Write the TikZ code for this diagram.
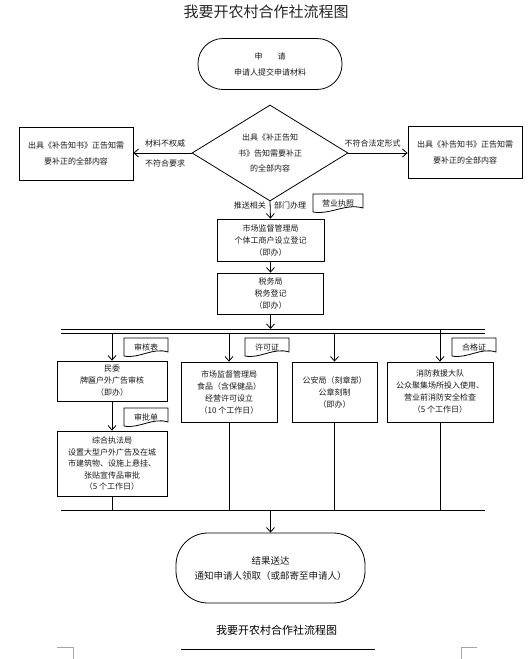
\documentclass[tikz,border=0pt]{standalone}
\usepackage{fontspec}
\setmainfont{Noto Sans CJK SC}
\usetikzlibrary{arrows.meta,shapes.geometric}
\definecolor{txt}{HTML}{1A1A1A}
\newcommand\docshape[6]{%
  \draw[line width=0.8pt,fill=white] (#2,#3) -- (#4,#3) -- (#4,{#5-4})
    .. controls ({#4-0.35*(#4-#2)},{#5-9}) and ({#2+0.35*(#4-#2)},{#5+3}) .. (#2,#5) -- cycle;
  \node[lbl] (#1) at ({(#2+#4)/2},{#3+9}) {#6};%
}
\begin{document}
\begin{tikzpicture}[x=1pt,y=-1pt,
  box/.style={draw,line width=0.8pt,rectangle,inner sep=0pt,align=center,text=txt,
     font=\fontsize{8}{12}\selectfont},
  term/.style={draw,line width=0.8pt,rectangle,inner sep=0pt,align=center,text=txt},
  lbl/.style={inner sep=0pt,text=txt,font=\fontsize{8}{10}\selectfont},
  arr/.style={draw,line width=0.8pt,-{Straight Barb[length=4.5pt,width=8pt]}},
  ln/.style={draw,line width=0.8pt}]
\useasboundingbox (0,0) rectangle (531,659);
\fill[white] (0,0) rectangle (531,659);

% title
\node[inner sep=0pt,text=black!85,font=\fontsize{15}{18}\selectfont] (title) at (266,12) {我要开农村合作社流程图};

% start
\node[term,rounded corners=25pt,minimum width=144pt,minimum height=51pt,
  font=\fontsize{8}{16}\selectfont] (start) at (270,64) {申\hspace{15pt}请\\申请人提交申请材料};

% decision
\node[draw,line width=0.8pt,diamond,aspect=1.625,minimum width=156pt,minimum height=96pt,
  inner sep=0pt,align=center,text=txt,font=\fontsize{8}{15.5}\selectfont] (dia) at (270,153)
  {出具《补正告知\\书》告知需要补正\\的全部内容};

% side boxes
\node[box,minimum width=114pt,minimum height=53pt,font=\fontsize{8}{16}\selectfont] (lbox) at (76,153.5)
  {出具《补告知书》正告知需\\要补正的全部内容};
\node[box,minimum width=114pt,minimum height=52pt,font=\fontsize{8}{16}\selectfont] (rbox) at (465,152)
  {出具《补告知书》正告知需\\要补正的全部内容};

\draw[arr] (dia.west) -- (lbox.east |- dia.west);
\draw[arr] (dia.east) -- (rbox.west |- dia.east);
\node[lbl] (l1) at (165,143) {材料不权威};
\node[lbl] (l2) at (165,163) {不符合要求};
\node[lbl] (l3) at (372.5,143) {不符合法定形式};

% main column
\node[box,minimum width=107pt,minimum height=42pt] (b1) at (270.5,240)
  {市场监督管理局\\个体工商户设立登记\\（即办）};
\node[box,minimum width=106pt,minimum height=41pt] (b2) at (270.5,293.5)
  {税务局\\税务登记\\（即办）};
\draw[arr] (dia.south) -- (b1.north);
\node[lbl,anchor=east] (l4) at (266,205) {推送相关};
\node[lbl,anchor=west] (l5) at (274,205) {部门办理};
\docshape{d0}{313}{194}{363}{212}{营业执照}
\draw[arr] (b1) -- (b2);

% buses
\coordinate (busA) at (61,329);  \coordinate (busA2) at (485,329);
\coordinate (busB) at (61,333);  \coordinate (busB2) at (485,333);
\coordinate (busC) at (61,510);  \coordinate (busC2) at (485,510);
\draw[arr] (b2.south) -- (b2.south |- busA);
\draw[ln] (busA) -- (busA2);
\draw[ln] (busB) -- (busB2);

% branch boxes
\node[box,minimum width=110pt,minimum height=40pt] (mw) at (112,381)
  {民委\\牌匾户外广告审核\\（即办）};
\node[box,minimum width=110pt,minimum height=65pt,font=\fontsize{8}{11.5}\selectfont] (zh) at (112,463.5)
  {综合执法局\\设置大型户外广告及在城\\市建筑物、设施上悬挂、\\张贴宣传品审批\\（5 个工作日）};
\node[box,minimum width=96pt,minimum height=60pt] (sp) at (229,392)
  {市场监督管理局\\食品（含保健品）\\经营许可设立\\（10 个工作日）};
\node[box,minimum width=85pt,minimum height=60pt] (ga) at (334.5,392)
  {公安局（刻章部）\\公章刻制\\（即办）};
\node[box,minimum width=106pt,minimum height=60pt] (xf) at (440,392)
  {消防救援大队\\公众聚集场所投入使用、\\营业前消防安全检查\\（5 个工作日）};

\draw[arr] (mw.north |- busB) -- (mw.north);
\draw[arr] (sp.north |- busB) -- (sp.north);
\draw[arr] (ga.north |- busB) -- (ga.north);
\draw[arr] (xf.north |- busA) -- (xf.north);
\draw[arr] (mw) -- (zh);

\docshape{d1}{124}{338}{168}{356}{审核表}
\docshape{d2}{245}{338}{289}{356}{许可证}
\docshape{d3}{452}{338}{496}{356}{合格证}
\docshape{d4}{124}{408}{168}{426}{审批单}

% lower bus
\draw[ln] (zh.south) -- (zh.south |- busC);
\draw[ln] (sp.south) -- (sp.south |- busC);
\draw[ln] (ga.south) -- (ga.south |- busC);
\draw[ln] (xf.south) -- (xf.south |- busC);
\draw[ln] (busC) -- (busC2);

% result
\node[term,rounded corners=32pt,minimum width=189pt,minimum height=70pt,
  font=\fontsize{9.5}{15}\selectfont] (res) at (270.5,568)
  {结果送达\\通知申请人领取（或邮寄至申请人）};
\draw[arr] (res.north |- busC) -- (res.north);

% caption
\node[inner sep=0pt,text=black,font=\fontsize{11}{13}\selectfont] (cap) at (276.5,630) {我要开农村合作社流程图};
\draw[ln] (181,649) -- (375,649);
\draw[black!35,line width=0.6pt] (57,647) -- (73,647) -- (73,659);
\draw[black!35,line width=0.6pt] (477,647) -- (461,647) -- (461,659);
\end{tikzpicture}
\end{document}
